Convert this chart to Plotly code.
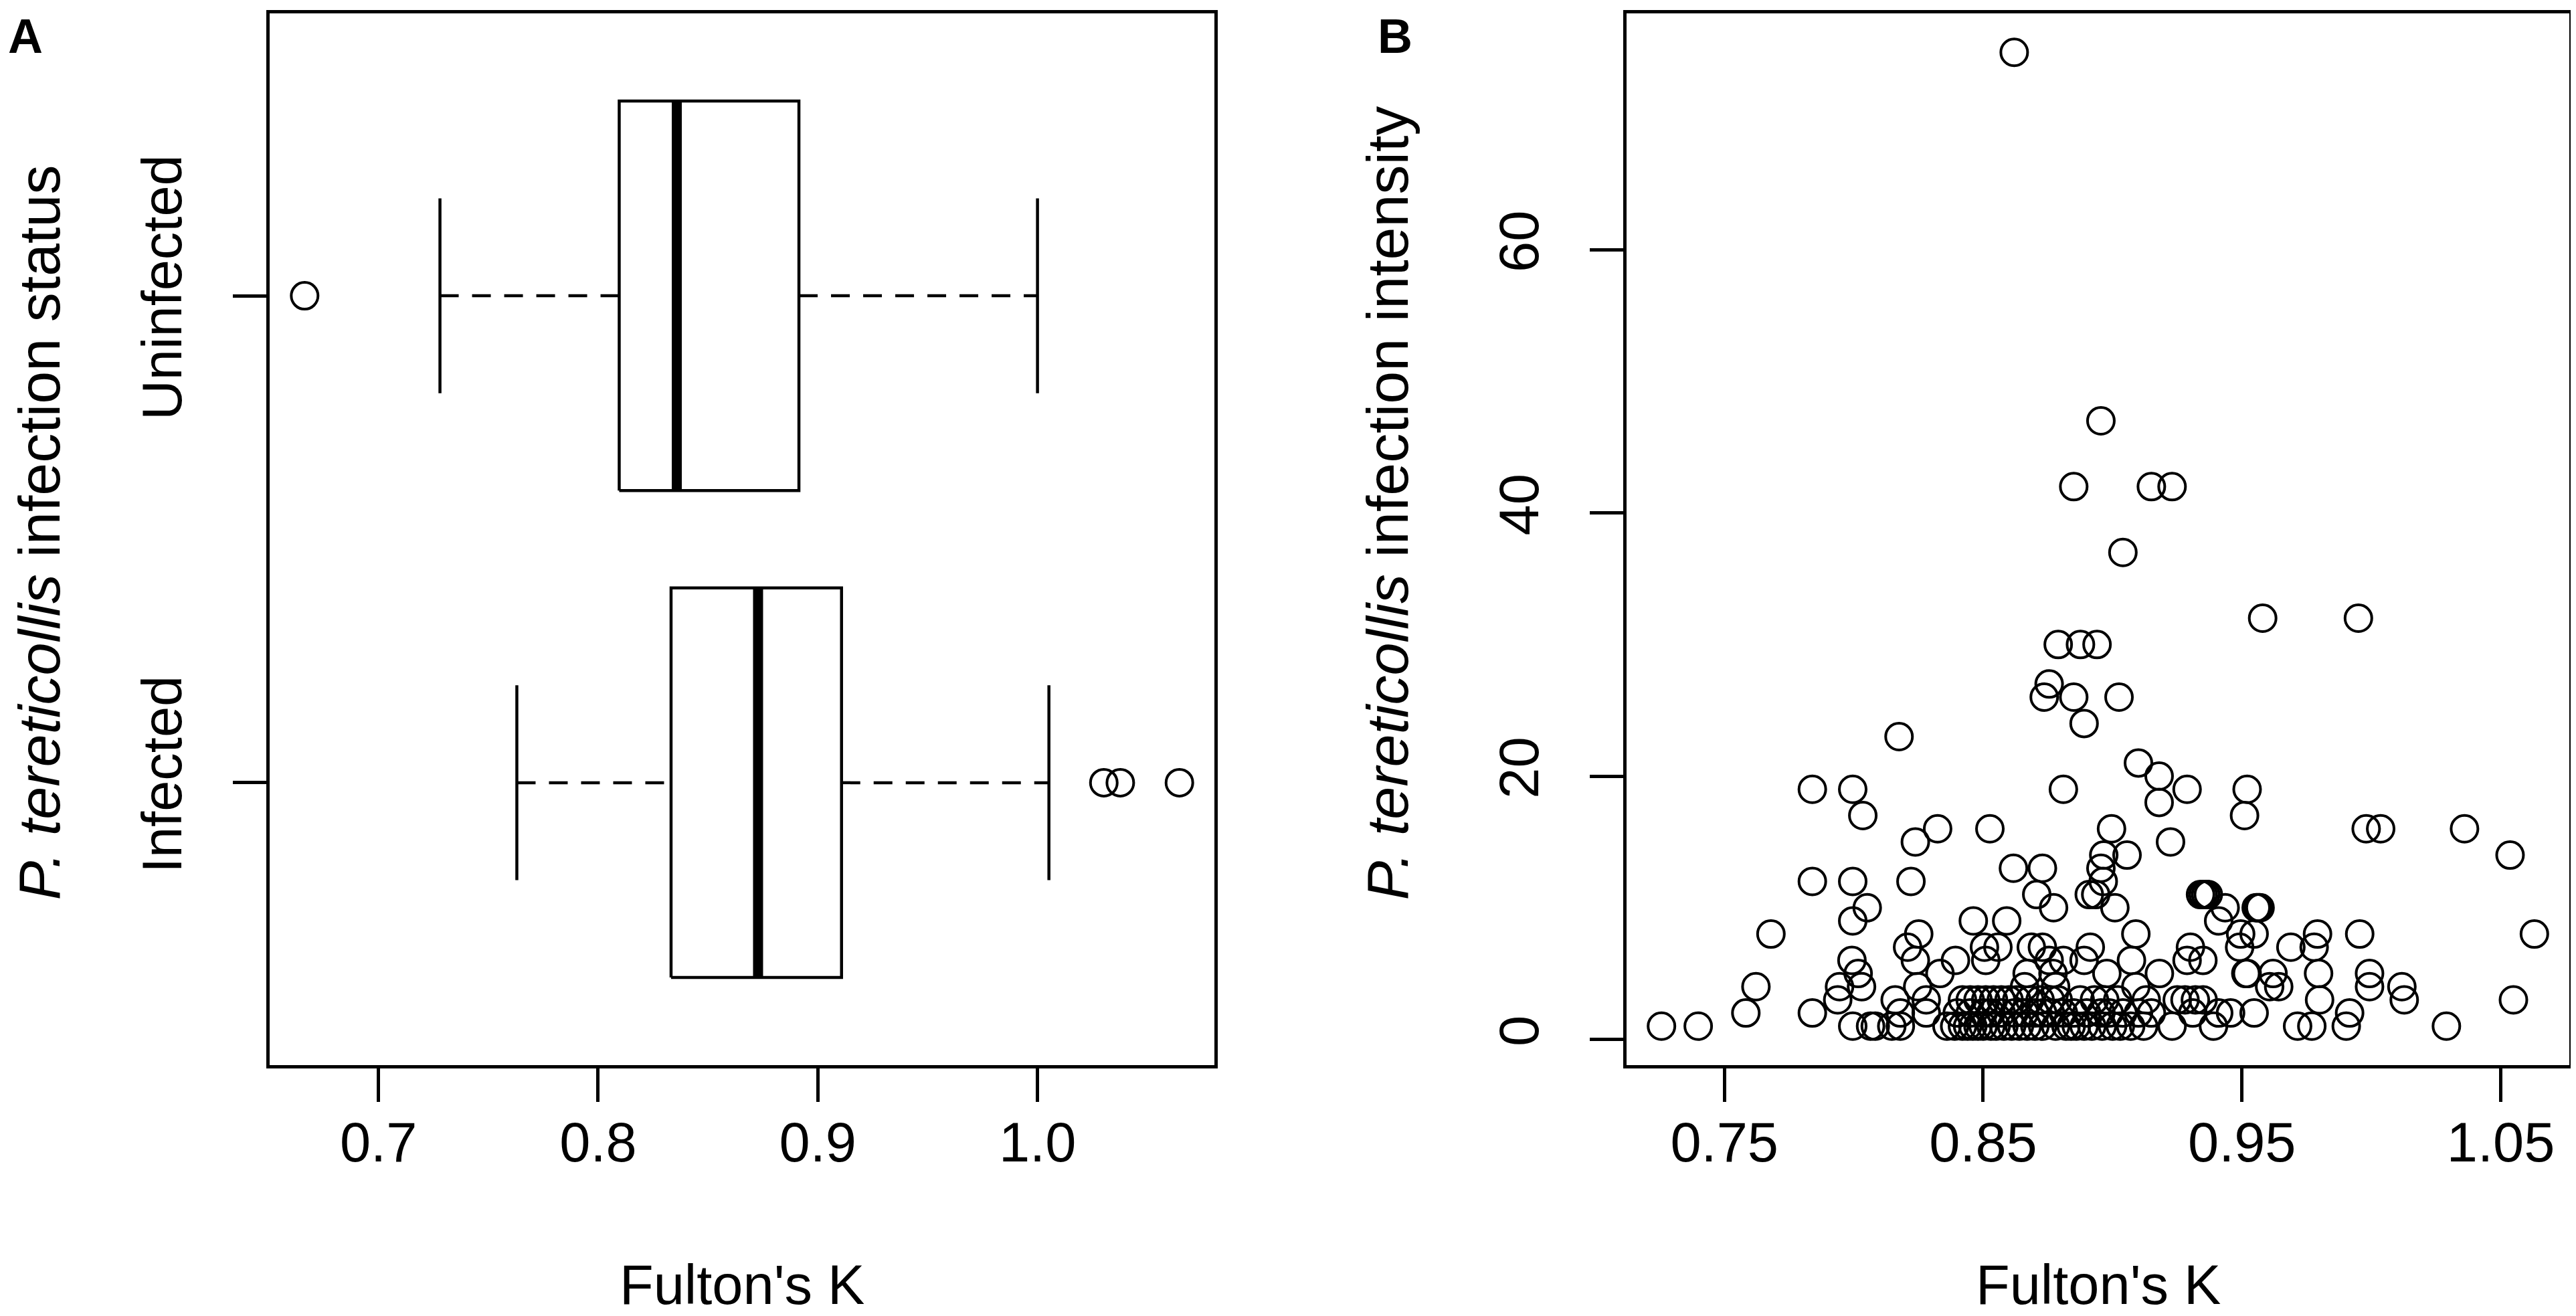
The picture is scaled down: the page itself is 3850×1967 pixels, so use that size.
import plotly.graph_objects as go

# Panel A: box statistics of Fulton's K by infection status
groups = ["Infected", "Uninfected"]
group_pos = [1, 2]
q1 = [0.8332, 0.8096]
median = [0.8728, 0.8358]
q3 = [0.9108, 0.8914]
whisker_lo = [0.763, 0.728]
whisker_hi = [1.0052, 1.000]
outliers_infected = [1.0302, 1.0377, 1.0646]
outliers_uninfected = [0.6664]

# Panel B: Fulton's K vs infection intensity
scatter_k = [
    0.862,
    0.8955,
    0.885, 0.915, 0.923,
    0.904,
    0.958, 0.995,
    0.879, 0.8876, 0.894,
    0.8755,
    0.8736, 0.885, 0.9025,
    0.889,
    0.8175,
    0.910,
    0.918,
    0.784, 0.7996, 0.881, 0.9288, 0.952,
    0.918,
    0.8035, 0.951,
    0.8324, 0.8526, 0.8996, 0.998, 1.0036, 1.036,
    0.8238, 0.9224,
    0.8966, 0.9056, 1.0536,
    0.8617, 0.8729, 0.8955,
    0.784, 0.7996, 0.8221, 0.8964,
    0.8707, 0.891, 0.8935, 0.934, 0.935, 0.936, 0.937,
    0.8052, 0.8772, 0.9009, 0.9435, 0.9555, 0.956, 0.9565, 0.957,
    0.7996, 0.8462, 0.8591, 0.941,
    0.768, 0.8251, 0.909, 0.9495, 0.9547, 0.9792, 0.9955, 1.063,
    0.8208, 0.8505, 0.8557, 0.8686, 0.8729, 0.8914, 0.9301, 0.9491, 0.9689, 0.9779,
    0.7993, 0.8238, 0.8393, 0.851, 0.8755, 0.881, 0.889, 0.9073, 0.9288, 0.9349,
    0.8017, 0.8333, 0.867, 0.877, 0.8978, 0.9181, 0.9515, 0.952, 0.962, 0.9796, 0.9993,
    0.7622, 0.7945, 0.803, 0.8247, 0.866, 0.878, 0.909, 0.9607, 0.9642, 0.9993, 1.0118,
    0.7938, 0.816, 0.828, 0.842, 0.845, 0.848, 0.851, 0.854, 0.857, 0.860, 0.863, 0.868,
    0.872, 0.876, 0.879, 0.8875, 0.893, 0.897, 0.902, 0.913, 0.925, 0.928, 0.932, 0.935,
    0.98, 1.0127, 1.0549,
    0.7583, 0.784, 0.818, 0.828, 0.840, 0.845, 0.850, 0.853, 0.857, 0.862, 0.866, 0.870,
    0.873, 0.876, 0.881, 0.885, 0.89, 0.8955, 0.8987, 0.904, 0.91, 0.915, 0.931, 0.941,
    0.9456, 0.9547, 0.9916,
    0.7257, 0.7399, 0.7996, 0.8065, 0.8083, 0.8147, 0.818, 0.836, 0.839, 0.842, 0.844,
    0.846, 0.848, 0.850, 0.853, 0.855, 0.858, 0.861, 0.864, 0.867, 0.870, 0.873, 0.878,
    0.882, 0.884, 0.886, 0.889, 0.892, 0.896, 0.9, 0.903, 0.907, 0.912, 0.923, 0.939,
    0.9715, 0.977, 0.9903, 1.029,
]
scatter_intensity = (
    [75, 47, 42, 42, 42, 37, 32, 32, 30, 30, 30, 27, 26, 26, 26, 24, 23, 21, 20]
    + [19] * 5 + [18] + [17] * 2 + [16] * 6 + [15] * 2 + [14] * 3 + [13] * 3
    + [12] * 4 + [11] * 7 + [10] * 8 + [9] * 4 + [8] * 8 + [7] * 10 + [6] * 10
    + [5] * 11 + [4] * 11 + [3] * 27 + [2] * 27 + [1] * 39
)

x_ticks_a = [0.7, 0.8, 0.9, 1.0]
x_ticks_b = [0.75, 0.85, 0.95, 1.05]
y_ticks_b = [0, 20, 40, 60]

FONT = "Liberation Sans, Arial, sans-serif"
FS = 83
FS_YTITLE = 88
LW = 4.5
BOX_HALF = 0.4
CAP_HALF = 0.2
MARKER = dict(symbol="circle-open", size=40, color="black", line=dict(width=4))
W, H = 3850, 1967


def padded(lo, hi, frac=0.04):
    d = (hi - lo) * frac
    return [lo - d, hi + d]


fig = go.Figure()

# ---- panel A: horizontal box plots
for i, pos in enumerate(group_pos):
    fig.add_trace(go.Scatter(
        x=[q1[i], q3[i], q3[i], q1[i], q1[i]],
        y=[pos - BOX_HALF, pos - BOX_HALF, pos + BOX_HALF, pos + BOX_HALF, pos - BOX_HALF],
        mode="lines", fill="toself", fillcolor="white",
        line=dict(color="black", width=LW), xaxis="x", yaxis="y",
    ))
    fig.add_trace(go.Scatter(
        x=[median[i], median[i]], y=[pos - BOX_HALF, pos + BOX_HALF],
        mode="lines", line=dict(color="black", width=15), xaxis="x", yaxis="y",
    ))
    for a, b in [(whisker_lo[i], q1[i]), (q3[i], whisker_hi[i])]:
        fig.add_trace(go.Scatter(
            x=[a, b], y=[pos, pos], mode="lines",
            line=dict(color="black", width=LW, dash="28px,20px"), xaxis="x", yaxis="y",
        ))
    for w in [whisker_lo[i], whisker_hi[i]]:
        fig.add_trace(go.Scatter(
            x=[w, w], y=[pos - CAP_HALF, pos + CAP_HALF], mode="lines",
            line=dict(color="black", width=LW), xaxis="x", yaxis="y",
        ))

for pts, pos in [(outliers_infected, group_pos[0]), (outliers_uninfected, group_pos[1])]:
    fig.add_trace(go.Scatter(
        x=pts, y=[pos] * len(pts), mode="markers", marker=MARKER, xaxis="x", yaxis="y",
    ))

# ---- panel B: scatter
fig.add_trace(go.Scatter(
    x=scatter_k, y=scatter_intensity, mode="markers", marker=MARKER,
    xaxis="x2", yaxis="y2",
))

all_a = outliers_infected + outliers_uninfected + whisker_lo + whisker_hi
axis_common = dict(
    showline=True, linecolor="black", linewidth=LW, mirror=True,
    ticks="outside", ticklen=50, tickwidth=LW, tickcolor="black",
    showgrid=False, zeroline=False,
    tickfont=dict(family=FONT, size=FS, color="black"),
)

dom_y = [1 - 1584 / H, 1 - 12 / H]
fig.update_layout(
    width=W, height=H,
    margin=dict(l=0, r=0, t=0, b=0),
    paper_bgcolor="white", plot_bgcolor="white",
    showlegend=False,
    font=dict(family=FONT, size=FS, color="black"),
    xaxis=dict(axis_common, domain=[395 / W, 1807 / W], ticklabelstandoff=-10,
               range=padded(min(all_a), max(all_a)),
               tickvals=x_ticks_a, ticktext=[f"{v:.1f}" for v in x_ticks_a]),
    yaxis=dict(axis_common, domain=dom_y, range=[0.42, 2.58], ticklabelstandoff=44,
               tickvals=group_pos, ticktext=groups, tickangle=-90),
    xaxis2=dict(axis_common, domain=[2423 / W, 3832 / W], anchor="y2", ticklabelstandoff=-10,
                range=padded(min(scatter_k), max(scatter_k)),
                tickvals=x_ticks_b, ticktext=[f"{v:.2f}" for v in x_ticks_b]),
    yaxis2=dict(axis_common, domain=dom_y, anchor="x2", ticklabelstandoff=44,
                range=padded(min(scatter_intensity), max(scatter_intensity)),
                tickvals=y_ticks_b, ticktext=[str(v) for v in y_ticks_b], tickangle=-90),
)

ann = [
    dict(text="Fulton's K", x=(395 + 1807) / 2 / W, y=1 - 1912 / H, yanchor="middle"),
    dict(text="Fulton's K", x=(2423 + 3832) / 2 / W, y=1 - 1912 / H, yanchor="middle"),
    dict(text="<i>P. tereticollis</i> infection status", x=50 / W, y=1 - 1340 / H,
         textangle=-90, yanchor="bottom", font=dict(size=FS_YTITLE)),
    dict(text="<i>P. tereticollis</i> infection intensity", x=2065 / W, y=1 - 1340 / H,
         textangle=-90, yanchor="bottom", font=dict(size=FS_YTITLE)),
    dict(text="<b>A</b>", x=30 / W, y=1 - 4 / H, yanchor="top", font=dict(size=72)),
    dict(text="<b>B</b>", x=2077 / W, y=1 - 4 / H, yanchor="top", font=dict(size=72)),
]
for a in ann:
    a.update(xref="paper", yref="paper", showarrow=False, xanchor="center")
    a.setdefault("font", dict(size=FS))
    a["font"] = dict(family=FONT, color="black", **a["font"])
fig.update_layout(annotations=ann)

fig.write_html("out.html")
